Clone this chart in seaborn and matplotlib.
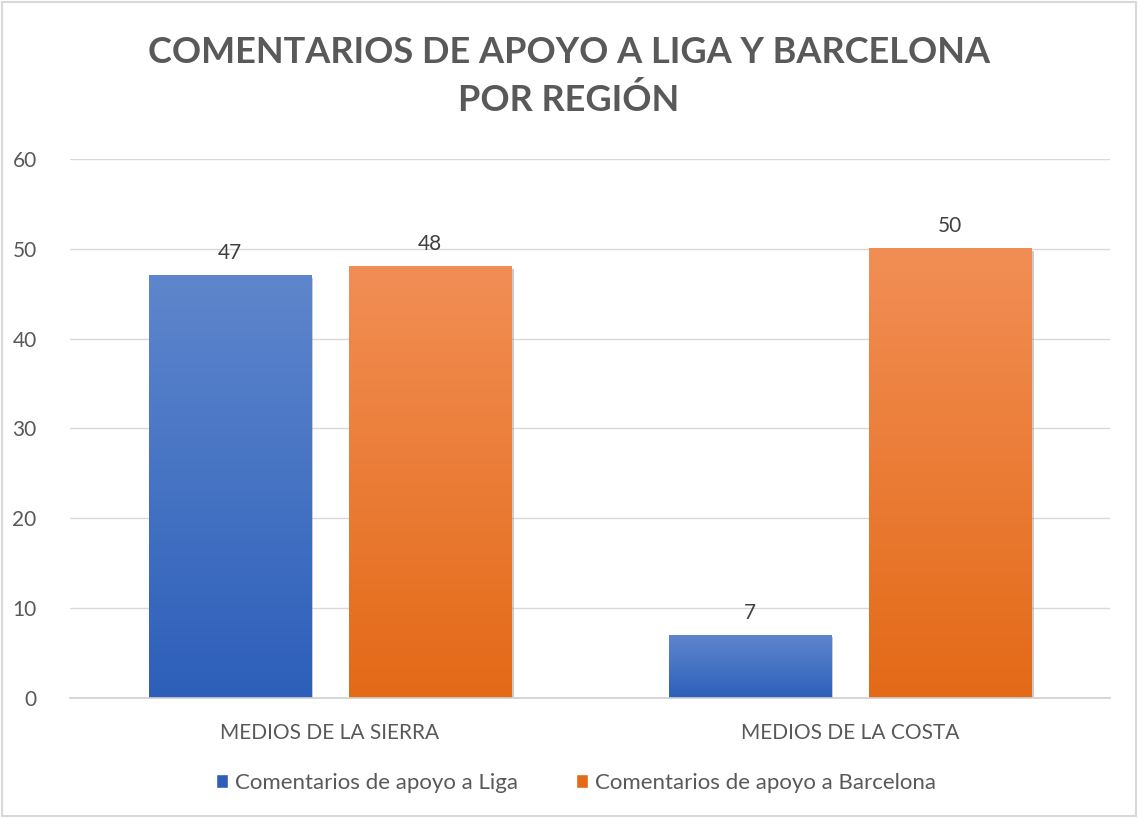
import numpy as np
import pandas as pd
import matplotlib
matplotlib.use("Agg")
import matplotlib.pyplot as plt
import matplotlib.patheffects as pe
from matplotlib.colors import to_rgb
from matplotlib.patches import Rectangle
import seaborn as sns

# data
regions = ["MEDIOS DE LA SIERRA", "MEDIOS DE LA COSTA"]
liga = [47, 7]
barcelona = [48, 50]
series = ["Comentarios de apoyo a Liga", "Comentarios de apoyo a Barcelona"]

# gradient colours (top, bottom) per series
grad = {
    series[0]: ("#5e86cc", "#2d5fba"),
    series[1]: ("#f28e55", "#e36a17"),
}

df = pd.DataFrame({
    "region": regions * 2,
    "serie": [series[0]] * 2 + [series[1]] * 2,
    "valor": liga + barcelona,
})

sns.set_theme(style="white")
plt.rcParams['font.family'] = ['Lato', 'DejaVu Sans']
grey = "#595959"

fig = plt.figure(figsize=(11.38, 8.18), dpi=100)
ax = fig.add_axes([0.0615, 0.1467, 0.914, 0.659])

sns.barplot(data=df, x="region", y="valor", hue="serie", hue_order=series,
            order=regions, width=0.77, gap=0.187, palette=[grad[s][1] for s in series],
            ax=ax, legend=False, linewidth=0, saturation=1)

# gradient fill over each bar, plus a soft shadow
for cont, s in zip(ax.containers, series):
    top, bot = np.array(to_rgb(grad[s][0])), np.array(to_rgb(grad[s][1]))
    t = np.linspace(0, 1, 256)[:, None]
    img = (top * (1 - t) + bot * t)[:, None, :]
    for p in cont.patches:
        p.set_path_effects([pe.SimplePatchShadow(offset=(1.5, -1.5), shadow_rgbFace="#999999", alpha=0.5),
                            pe.Normal()])
        x, w, h = p.get_x(), p.get_width(), p.get_height()
        ax.imshow(img, extent=[x, x + w, 0, h], aspect="auto", zorder=p.get_zorder() + 0.1,
                  interpolation="bilinear")
    ax.bar_label(cont, padding=9, fontsize=15, color="#404040")

ax.set_xlim(-0.5, 1.5)
ax.set_ylim(0, 60)
ax.set_yticks(range(0, 61, 10))
ax.yaxis.grid(True, color="#d9d9d9", linewidth=1)
ax.set_axisbelow(True)
for side in ["top", "right", "left"]:
    ax.spines[side].set_visible(False)
ax.spines["bottom"].set_color("#d0d0d0")
ax.spines["bottom"].set_linewidth(1.2)
ax.tick_params(axis="both", length=0, labelsize=15, labelcolor=grey)
ax.tick_params(axis="x", pad=18)
ax.tick_params(axis="y", pad=24)
ax.set_xlabel("")
ax.set_ylabel("")

fig.text(0.5, 0.906, "COMENTARIOS DE APOYO A LIGA Y BARCELONA\nPOR REGIÓN",
         ha="center", va="center", fontsize=26, fontweight="bold", color=grey,
         linespacing=1.5)

handles = [Rectangle((0, 0), 1, 1, facecolor=grad[s][1]) for s in series]
ax.legend(handles, series, ncol=2, frameon=False, loc="center",
          bbox_to_anchor=(0.506, 0.043), bbox_transform=fig.transFigure,
          fontsize=16, labelcolor=grey, handlelength=0.55, handleheight=0.6,
          handletextpad=0.3, columnspacing=2.6)

fig.patches.append(Rectangle((0.002, 0.002), 0.996, 0.996, transform=fig.transFigure,
                             fill=False, edgecolor="#d9d9d9", linewidth=1.5))

fig.savefig("out.png", dpi=100)
